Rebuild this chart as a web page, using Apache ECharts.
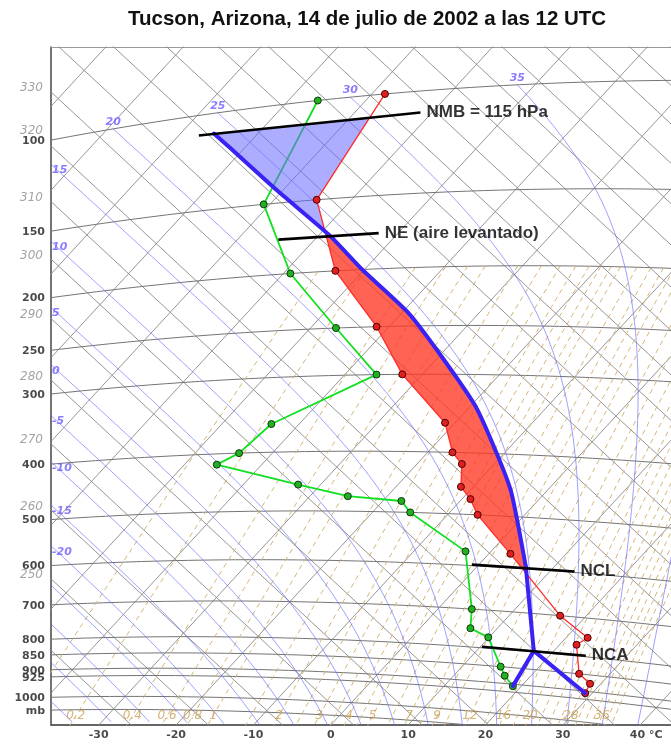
<!DOCTYPE html>
<html><head><meta charset="utf-8"><title>Tefigrama Tucson</title>
<script src="https://cdn.jsdelivr.net/npm/echarts@6.0.0/dist/echarts.min.js"></script>
<style>html,body{margin:0;padding:0;background:#fff}#chart{width:671px;height:744px}</style>
</head><body><div id="chart"></div>
<script>
// ===== Values =====
const chartTitle = 'Tucson, Arizona, 14 de julio de 2002 a las 12 UTC';

// Temperature sounding: pressure (hPa) and temperature (°C)
const tempP = [906, 876, 850, 770, 749, 700, 571, 500, 473, 453, 417, 400, 359, 300, 250, 200, 150, 100];
const tempT = [29.1, 28.6, 26.0, 22.2, 22.8, 16.6, 2.8, -6.1, -8.9, -11.6, -14.2, -16.8, -21.3, -32.6, -41.6, -53.6, -64.5, -68.3];
// Dew point sounding
const dewP = [906, 876, 850, 770, 749, 700, 571, 500, 480, 473, 453, 417, 400, 359, 300, 250, 200, 150, 100];
const dewT = [18.9, 16.6, 15.0, 9.9, 6.5, 4.4, -3.3, -15.1, -17.6, -25.1, -32.9, -45.8, -44.3, -43.6, -35.9, -46.7, -59.1, -70.8, -76.2];
// Lifted parcel path (temperature branch) and dew point branch up to the NCA
const parcelP = [906, 797, 595, 460, 405, 338, 281, 238, 200, 173, 143, 116, 109];
const parcelT = [29.1, 17.4, 6.3, -4.3, -10.3, -19.2, -29.6, -39.1, -50.3, -58.8, -70.5, -82.3, -85.7];
const parcelDewP = [906, 797];
const parcelDewT = [18.9, 17.4];
// Annotated levels: text, pressure, start / end temperature of the black bar
const annText = ['NMB = 115 hPa', 'NE (aire levantado)', 'NCL', 'NCA'];
const annP = [109, 174, 598, 797];
const annT0 = [-87.4, -64.7, -0.9, 10.2];
const annT1 = [-61.5, -52.5, 13.2, 24.7];

// Diagram background families
const isobarLevels = [100, 150, 200, 250, 300, 400, 500, 600, 700, 800, 850, 900, 925, 1000, 1050];
const isobarLabels = ['100', '150', '200', '250', '300', '400', '500', '600', '700', '800', '850', '900', '925', '1000', 'mb'];
const isothermValues = [-150, -140, -130, -120, -110, -100, -90, -80, -70, -60, -50, -40, -30, -20, -10, 0, 10, 20, 30, 40, 50, 60];
const thetaValues = [200, 210, 220, 230, 240, 250, 260, 270, 280, 290, 300, 310, 320, 330, 340, 350, 360, 370, 380, 390, 400, 410, 420, 430, 440, 450, 460, 470, 480, 490, 500];
const thetaLabelValues = [250, 260, 270, 280, 290, 300, 310, 320, 330];
const moistValues = [-40, -35, -30, -25, -20, -15, -10, -5, 0, 5, 10, 15, 20, 25, 30, 35, 40, 45];
const moistLabelValues = [-20, -15, -10, -5, 0, 5, 10, 15, 20, 25, 30, 35];
const mixValues = [0.1, 0.2, 0.4, 0.6, 0.8, 1, 1.5, 2, 2.5, 3, 3.5, 4, 4.5, 5, 6, 7, 8, 9, 10, 12, 14, 16, 18, 20, 22, 24, 26, 28, 30, 32, 34, 36, 38, 40];
const mixLabelValues = [0.2, 0.4, 0.6, 0.8, 1, 2, 3, 4, 5, 7, 9, 12, 16, 20, 28, 36];
const tempTickValues = [-30, -20, -10, 0, 10, 20, 30, 40];

// ===== Tephigram projection (T, theta) -> diagram plane =====
const C = 0.7337, S = 0.6794, sT = 5.694, cu = 736, sL = 1286.9, cw = -155.43, KAP = 0.2834;
const X0 = 51, X1 = 673, Y0 = 47, Y1 = 725;
function projTL(T, L) { const u = sT * T + cu, w = sL * L + cw; return [u * C + w * S, u * S - w * C]; }
function thetaLn(p, T) { return Math.log((T + 273.15) / 300) + KAP * Math.log(1000 / p); }
function projPT(p, T) { return projTL(T, thetaLn(p, T)); }

function satVap(Tc) { return 6.112 * Math.exp(17.67 * Tc / (Tc + 243.5)); }
function satMix(p, Tc) { const e = satVap(Tc); return 0.622 * e / (p - e); }
function moistRate(p, TK) {
  const r = satMix(p, TK - 273.15), Rd = 287.04, cp = 1005.7, Lv = 2.501e6, eps = 0.622;
  return (Rd * TK + Lv * r) / (cp + Lv * Lv * r * eps / (Rd * TK * TK));
}
function moistAdiabat(thw) {
  const h = 0.01;
  function run(x0, x1, T0) {
    const out = []; let x = x0, T = T0; const dir = x1 > x0 ? 1 : -1;
    out.push([Math.exp(x), T]);
    while ((x1 - x) * dir > 1e-9) {
      const st = Math.min(h, Math.abs(x1 - x)) * dir;
      const k1 = moistRate(Math.exp(x), T);
      const k2 = moistRate(Math.exp(x + st / 2), T + st / 2 * k1);
      const k3 = moistRate(Math.exp(x + st / 2), T + st / 2 * k2);
      const k4 = moistRate(Math.exp(x + st), T + st * k3);
      T += st / 6 * (k1 + 2 * k2 + 2 * k3 + k4); x += st;
      out.push([Math.exp(x), T]);
    }
    return out;
  }
  const down = run(Math.log(1000), Math.log(1100), thw + 273.15).reverse();
  const up = run(Math.log(1000), Math.log(100), thw + 273.15);
  return down.concat(up.slice(1)).map(q => projPT(q[0], q[1] - 273.15));
}
function dewFromMix(w, p) { const e = w * p / (622 + w); const a = Math.log(e / 6.112); return 243.5 * a / (17.67 - a); }

const series = [];
function addLine(pts, style, z) {
  series.push({ type: 'line', data: pts, symbol: 'none', silent: true, clip: true, z: z, lineStyle: style, animation: false });
}
const gray = { color: '#8a8a8a', width: 0.9 };
isothermValues.forEach(T => addLine([projTL(T, -0.5), projTL(T, 0.7)], gray, 1));
thetaValues.forEach(th => { const L = Math.log(th / 300); addLine([projTL(-170, L), projTL(80, L)], gray, 1); });
isobarLevels.forEach(p => { const pts = []; for (let T = -170; T <= 70; T += 2) pts.push(projPT(p, T)); addLine(pts, { color: '#747474', width: 1 }, 1); });
mixValues.forEach(w => { const pts = []; for (let p = 200; p <= 1150; p += 25) pts.push(projPT(p, dewFromMix(w, p))); addLine(pts, { color: '#d4b47a', width: 1, type: [5, 4] }, 1); });
const moistCurves = moistValues.map(v => moistAdiabat(v));
moistCurves.forEach(pts => addLine(pts, { color: 'rgba(100,100,255,0.62)', width: 1 }, 1));

// ===== Sounding, parcel, areas =====
const tempXY = tempP.map((p, i) => projPT(p, tempT[i]));
const dewXY = dewP.map((p, i) => projPT(p, dewT[i]));
const parcelXY = parcelP.map((p, i) => projPT(p, parcelT[i]));
const parcelDewXY = parcelDewP.map((p, i) => projPT(p, parcelDewT[i]));

function segInt(a, b, c, d) {
  const rx = b[0] - a[0], ry = b[1] - a[1], sx = d[0] - c[0], sy = d[1] - c[1];
  const den = rx * sy - ry * sx; if (Math.abs(den) < 1e-12) return null;
  const t = ((c[0] - a[0]) * sy - (c[1] - a[1]) * sx) / den;
  const u = ((c[0] - a[0]) * ry - (c[1] - a[1]) * rx) / den;
  if (t < 0 || t > 1 || u < 0 || u > 1) return null;
  return { t, u, pt: [a[0] + t * rx, a[1] + t * ry] };
}
const ints = [];
for (let i = 0; i < parcelXY.length - 1; i++) for (let j = 0; j < tempXY.length - 1; j++) {
  const r = segInt(parcelXY[i], parcelXY[i + 1], tempXY[j], tempXY[j + 1]);
  if (r && !(i === 0 && r.t < 1e-6)) ints.push({ i, j, t: r.t, pt: r.pt });
}
ints.sort((a, b) => (a.i + a.t) - (b.i + b.t));
const lfc = ints[0], el = ints[ints.length - 1];
const capePoly = [lfc.pt];
for (let k = lfc.i + 1; k <= el.i; k++) capePoly.push(parcelXY[k]);
capePoly.push(el.pt);
for (let k = el.j; k >= lfc.j + 1; k--) capePoly.push(tempXY[k]);

const nmbA = projPT(annP[0], annT0[0]), nmbB = projPT(annP[0], annT1[0]);
let nmbHit = null;
for (let j = 0; j < tempXY.length - 1; j++) { const r = segInt(nmbA, nmbB, tempXY[j], tempXY[j + 1]); if (r) nmbHit = { j, pt: r.pt }; }
const bluePoly = [el.pt];
for (let k = el.i + 1; k < parcelXY.length; k++) bluePoly.push(parcelXY[k]);
bluePoly.push(nmbHit.pt);
for (let k = nmbHit.j; k >= el.j + 1; k--) bluePoly.push(tempXY[k]);

function polySeries(poly, color, z) {
  return { type: 'custom', silent: true, clip: true, z, animation: false, data: [[poly[0][0], poly[0][1]]],
    renderItem: (params, api) => ({ type: 'polygon', shape: { points: poly.map(q => api.coord(q)) }, style: { fill: color } }) };
}

series.push({ type: 'line', data: dewXY, z: 2, silent: true, animation: false, clip: true,
  lineStyle: { color: '#10e020', width: 1.8 }, symbol: 'circle', symbolSize: 7, showSymbol: true,
  itemStyle: { color: '#22b022', borderColor: '#0a3a0a', borderWidth: 1 } });
series.push(polySeries(capePoly, 'rgba(255,55,35,0.78)', 3));
series.push(polySeries(bluePoly, 'rgba(105,105,255,0.55)', 3));
series.push({ type: 'line', data: tempXY, z: 4, silent: true, animation: false, clip: true,
  lineStyle: { color: '#ff2a2a', width: 1.3 }, symbol: 'circle', symbolSize: 7, showSymbol: true,
  itemStyle: { color: '#e02020', borderColor: '#4a0000', borderWidth: 1 } });
const parcelStyle = { color: '#3a22f5', width: 4, join: 'round', cap: 'round' };
// dry ascent + first saturated leg drawn straight, upper saturated leg slightly smoothed
series.push({ type: 'line', data: parcelXY.slice(0, 3), z: 5, symbol: 'none', silent: true, animation: false, lineStyle: parcelStyle });
series.push({ type: 'line', data: parcelXY.slice(2), z: 5, symbol: 'none', silent: true, animation: false, smooth: 0.2, lineStyle: parcelStyle });
series.push({ type: 'line', data: parcelDewXY, z: 5, symbol: 'none', silent: true, animation: false, lineStyle: parcelStyle });

// Annotation bars
const annLabels = [];
annP.forEach((p, k) => {
  const a = projPT(p, annT0[k]), b = projPT(p, annT1[k]);
  series.push({ type: 'line', data: [a, b], z: 6, symbol: 'none', silent: true, animation: false, clip: false,
    lineStyle: { color: '#000', width: 2.6 } });
  annLabels.push({ value: b, label: { show: true, formatter: annText[k], position: 'right', distance: 6,
    fontSize: 17, fontWeight: 'bold', color: '#000', fontFamily: 'Liberation Sans, Arial, sans-serif' } });
});

// ===== Text labels =====
const lab = [];
function xAtEdge(p) { let lo = -200, hi = 80; for (let n = 0; n < 60; n++) { const m = (lo + hi) / 2; if (projPT(p, m)[0] < X0 + 0.5) lo = m; else hi = m; } return projPT(p, (lo + hi) / 2); }
const pLabelY = [];
isobarLevels.forEach((p, k) => {
  const q = xAtEdge(p); pLabelY.push(q[1]);
  lab.push({ value: [X0, q[1]], label: { show: true, formatter: isobarLabels[k], position: 'left', distance: 6, offset: [0, 1],
    fontSize: 11, fontWeight: 'bold', color: '#1a1a1a', fontFamily: 'DejaVu Sans, sans-serif' } });
});
thetaLabelValues.forEach(th => {
  const w = sL * Math.log(th / 300) + cw; const u = (X0 + 0.5 - w * S) / C; let y = u * S - w * C - 4;
  pLabelY.forEach(py => { if (Math.abs(py - y) < 9) y = py - 9; });
  lab.push({ value: [X0, y], label: { show: true, formatter: String(th), position: 'left', distance: 8,
    fontSize: 12, fontStyle: 'italic', color: '#8c8c8c', fontFamily: 'DejaVu Sans, sans-serif' } });
});
tempTickValues.forEach(T => {
  const u = sT * T + cu; const w = (u * S - Y1) / C; const x = u * C + w * S;
  const txt = T === 40 ? '40 °C' : String(T);
  lab.push({ value: [x, Y1], label: { show: true, formatter: txt, position: 'bottom', distance: 5,
    offset: T === 40 ? [6, 0] : [0, 0],
    fontSize: 11, fontWeight: 'bold', color: '#1a1a1a', fontFamily: 'DejaVu Sans, sans-serif' } });
});
moistValues.forEach((v, k) => {
  if (moistLabelValues.indexOf(v) < 0) return;
  const pts = moistCurves[k]; let last = null, spot = null, side = 'top';
  for (let n = 0; n < pts.length; n++) {
    const q = pts[n]; const inside = q[0] >= X0 && q[0] <= X1 && q[1] >= Y0 && q[1] <= Y1;
    if (inside) last = q;
    else if (last && (q[0] < X0 || q[1] < Y0)) {
      if (q[0] < X0) { const f = (last[0] - X0) / (last[0] - q[0]); spot = [X0, last[1] + f * (q[1] - last[1])]; side = 'left'; }
      else { spot = last; }
      break;
    }
  }
  if (!spot) spot = last;
  const base = { show: true, formatter: String(v), fontSize: 11, fontStyle: 'italic', fontWeight: 'bold', color: '#6b5cff', fontFamily: 'DejaVu Sans, sans-serif' };
  lab.push({ value: spot, label: side === 'left'
    ? Object.assign({ position: 'right', distance: 1, offset: [0, 6] }, base)
    : Object.assign({ position: 'inside', offset: [0, -7] }, base) });
});
mixLabelValues.forEach(w => {
  const yT = 716; let prev = null, hit = null;
  for (let p = 600; p <= 1200; p += 2) {
    const q = projPT(p, dewFromMix(w, p));
    if (prev && prev[1] < yT && q[1] >= yT) { const f = (yT - prev[1]) / (q[1] - prev[1]); hit = [prev[0] + f * (q[0] - prev[0]), yT]; break; }
    prev = q;
  }
  if (!hit) return;
  lab.push({ value: hit, label: { show: true, formatter: String(w), position: 'inside',
    fontSize: 12, fontStyle: 'italic', color: '#c9a052', fontFamily: 'DejaVu Sans, sans-serif' } });
});

series.push({ type: 'scatter', data: lab, symbolSize: 0, silent: true, clip: false, z: 8, animation: false });
series.push({ type: 'scatter', data: annLabels, symbolSize: 0, silent: true, clip: false, z: 9, animation: false });

const chart = echarts.init(document.getElementById('chart'), null, { renderer: 'canvas' });
chart.setOption({
  backgroundColor: '#fff',
  animation: false,
  title: { text: chartTitle, left: 123, top: 4, textStyle: { fontSize: 20.5, fontWeight: 'bold', color: '#111', fontFamily: 'Liberation Sans, Arial, sans-serif' } },
  grid: { left: X0, top: Y0, width: X1 - X0, height: Y1 - Y0, show: false, containLabel: false },
  xAxis: [
    { type: 'value', min: X0, max: X1, position: 'bottom', axisLabel: { show: false }, axisTick: { show: false }, splitLine: { show: false },
      axisLine: { show: true, onZero: false, lineStyle: { color: '#333', width: 1.5 } } },
    { type: 'value', min: X0, max: X1, position: 'top', axisLabel: { show: false }, axisTick: { show: false }, splitLine: { show: false },
      axisLine: { show: true, onZero: false, lineStyle: { color: '#9a9a9a', width: 1 } } }
  ],
  yAxis: { type: 'value', min: Y0, max: Y1, inverse: true, axisLabel: { show: false }, axisTick: { show: false }, splitLine: { show: false },
    axisLine: { show: true, onZero: false, lineStyle: { color: '#444', width: 1.5 } } },
  series: series
});
</script></body></html>
